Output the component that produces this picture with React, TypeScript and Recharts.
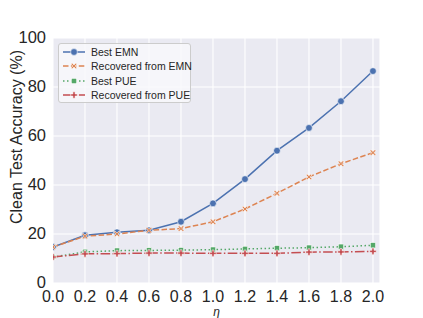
import { LineChart, Line, XAxis, YAxis, CartesianGrid, Label } from 'recharts'

const eta = [0.0, 0.2, 0.4, 0.6, 0.8, 1.0, 1.2, 1.4, 1.6, 1.8, 2.0]
const bestEMN = [14.7, 19.5, 20.7, 21.5, 25.0, 32.5, 42.4, 54.0, 63.3, 74.2, 86.5]
const recEMN = [14.7, 19.1, 20.0, 21.5, 22.2, 25.0, 30.2, 36.6, 43.3, 48.7, 53.2]
const bestPUE = [10.6, 12.7, 13.2, 13.3, 13.4, 13.6, 13.9, 14.2, 14.4, 14.8, 15.4]
const recPUE = [10.6, 11.9, 12.0, 12.2, 12.2, 12.1, 12.1, 12.1, 12.6, 12.7, 12.9]
const yTicks = [0, 20, 40, 60, 80, 100]

const data = eta.map((e, i) => ({
  eta: e,
  bestEMN: bestEMN[i],
  recEMN: recEMN[i],
  bestPUE: bestPUE[i],
  recPUE: recPUE[i],
}))

const FONT = '"Liberation Sans", Arial, sans-serif'

const series = [
  { key: 'bestEMN', name: 'Best EMN', color: '#4C72B0', dash: undefined, marker: 'circle' },
  { key: 'recEMN', name: 'Recovered from EMN', color: '#DD8452', dash: '5.5 2.4', marker: 'x' },
  { key: 'bestPUE', name: 'Best PUE', color: '#55A868', dash: '1.5 2.5', marker: 'square' },
  { key: 'recPUE', name: 'Recovered from PUE', color: '#C44E52', dash: '9.6 2.4 1.5 2.4', marker: 'plus' },
]

function Marker({ cx, cy, color, kind }: { cx: number; cy: number; color: string; kind: string }) {
  if (kind === 'circle') {
    return <circle cx={cx} cy={cy} r={3.4} fill={color} stroke="#fff" strokeWidth={0.6} />
  }
  if (kind === 'square') {
    return <rect x={cx - 2.7} y={cy - 2.7} width={5.4} height={5.4} fill={color} stroke="#fff" strokeWidth={0.6} />
  }
  if (kind === 'x') {
    const s = 3
    const t = 1.1
    const d = `M${cx - s},${cy - s + t} L${cx - t},${cy} L${cx - s},${cy + s - t} L${cx - s + t},${cy + s} L${cx},${cy + t} L${cx + s - t},${cy + s} L${cx + s},${cy + s - t} L${cx + t},${cy} L${cx + s},${cy - s + t} L${cx + s - t},${cy - s} L${cx},${cy - t} L${cx - s + t},${cy - s} Z`
    return <path d={d} fill={color} stroke="#fff" strokeWidth={0.6} />
  }
  const s = 3.3
  const t = 1.1
  const d = `M${cx - t},${cy - s} H${cx + t} V${cy - t} H${cx + s} V${cy + t} H${cx + t} V${cy + s} H${cx - t} V${cy + t} H${cx - s} V${cy - t} H${cx - t} Z`
  return <path d={d} fill={color} stroke="#fff" strokeWidth={0.6} />
}

const LegendBox = () => (
  <div
    style={{
      position: 'absolute',
      left: 58,
      top: 43,
      boxSizing: 'border-box',
      background: 'rgba(248,248,251,0.85)',
      border: '1px solid #CCCCCC',
      borderRadius: 3,
      padding: '1px 4px 1px 3px',
      fontFamily: FONT,
      fontSize: 10.5,
      color: '#262626',
      width: 133,
      height: 60,
    }}
  >
    {series.map(s => (
      <div key={s.key} style={{ display: 'flex', alignItems: 'center', height: 14.3 }}>
        <svg width={29} height={10} style={{ flex: 'none' }}>
          <line x1={1} y1={5} x2={23} y2={5} stroke={s.color} strokeWidth={1.5} strokeDasharray={s.dash} />
          <Marker cx={12} cy={5} color={s.color} kind={s.marker} />
        </svg>
        <span style={{ whiteSpace: 'nowrap' }}>{s.name}</span>
      </div>
    ))}
  </div>
)

export default function App() {
  return (
    <div style={{ position: 'absolute', left: 0, top: 0, width: 423, height: 318, background: '#fff' }}>
      <LineChart width={423} height={318} data={data} margin={{ top: 38, right: 43, left: 0, bottom: 0 }}>
        <CartesianGrid stroke="#FFFFFF" strokeWidth={1.1} fill="#EAEAF2" fillOpacity={1} />
        <XAxis
          dataKey="eta"
          type="number"
          domain={[0, 2.044]}
          ticks={eta}
          allowDataOverflow
          tickFormatter={(v: number) => v.toFixed(1)}
          axisLine={false}
          tickLine={false}
          height={35}
          tick={{ fill: '#262626', fontSize: 16, fontFamily: FONT }}
          dy={0}
        >
          <Label value="η" position="insideBottom" offset={2} style={{ fill: '#262626', fontSize: 12, fontStyle: 'italic', fontFamily: FONT }} />
        </XAxis>
        <YAxis
          type="number"
          domain={[0, 100]}
          ticks={yTicks}
          axisLine={false}
          tickLine={false}
          width={53}
          tick={{ fill: '#262626', fontSize: 16.5, fontFamily: FONT }}
          dx={1}
          dy={-1}
        >
          <Label
            value="Clean Test Accuracy (%)"
            content={() => (
              <text
                x={22}
                y={137}
                transform="rotate(-90 22 137)"
                textAnchor="middle"
                style={{ fill: '#262626', fontSize: 16, fontFamily: FONT }}
              >
                Clean Test Accuracy (%)
              </text>
            )}
          />
        </YAxis>
        {series.map(s => (
          <Line
            key={s.key}
            dataKey={s.key}
            name={s.name}
            stroke={s.color}
            strokeWidth={1.5}
            strokeDasharray={s.dash}
            isAnimationActive={false}
            dot={(p: any) => <Marker key={`${s.key}-${p.index}`} cx={p.cx} cy={p.cy} color={s.color} kind={s.marker} />}
            activeDot={false}
          />
        ))}
      </LineChart>
      <LegendBox />
    </div>
  )
}
